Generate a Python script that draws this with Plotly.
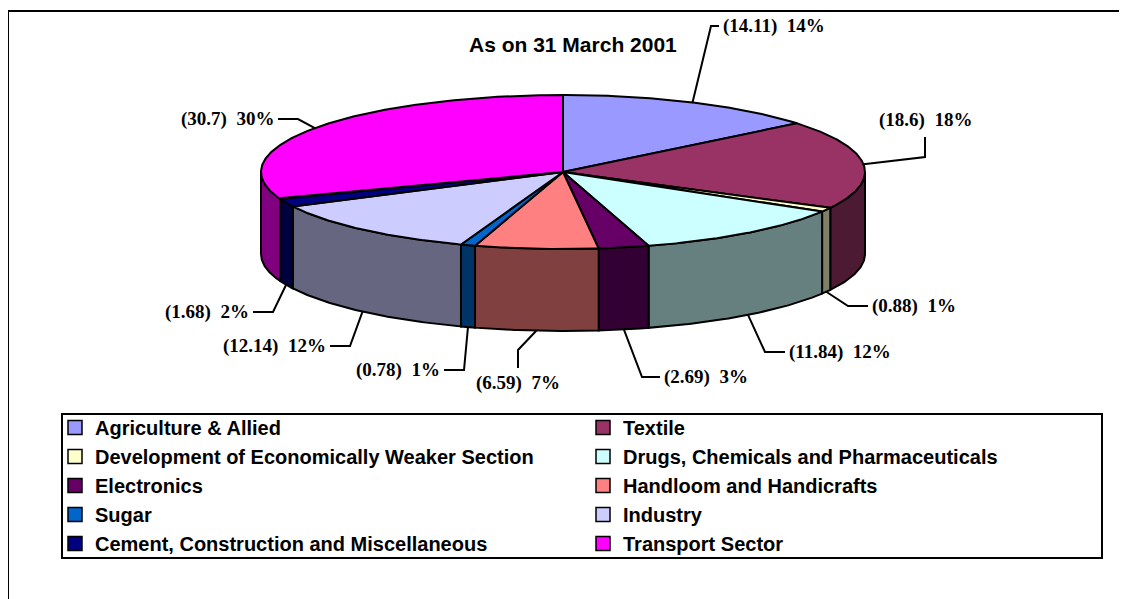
import numpy as np
import plotly.graph_objects as go

# ---------------- data ----------------
categories = [
    "Agriculture & Allied",
    "Textile",
    "Development of Economically Weaker Section",
    "Drugs, Chemicals and Pharmaceuticals",
    "Electronics",
    "Handloom and Handicrafts",
    "Sugar",
    "Industry",
    "Cement, Construction and Miscellaneous",
    "Transport Sector",
]
values = [14.11, 18.6, 0.88, 11.84, 2.69, 6.59, 0.78, 12.14, 1.68, 30.7]
pct_labels = ["14%", "18%", "1%", "12%", "3%", "7%", "1%", "12%", "2%", "30%"]

# ---------------- styles ----------------
top_colors = ["#9999FF", "#993366", "#FFFFCC", "#CCFFFF", "#660066",
              "#FF8080", "#0066CC", "#CCCCFF", "#000080", "#FF00FF"]
side_colors = ["#4D4D80", "#4D1A33", "#808066", "#668080", "#330033",
               "#804040", "#003366", "#666680", "#000040", "#800080"]

W, H = 1127, 599
OFF = 8  # page body margin: axis units equal screen pixels
CX, CY, RX, RY, DEPTH = 563, 172, 302, 77, 82

# label placement: (text x, text y, side, leader segment length)
label_layout = [
    (721, 26, "r", 10),
    (925, 133, "a", 24),
    (870, 306, "r", 22),
    (787, 352, "r", 22),
    (662, 377, "r", 20),
    (518, 370, "b", 20),
    (442, 370, "l", 22),
    (328, 346, "l", 22),
    (251, 312, "l", 22),
    (276, 119, "l", 22),
]


def ex(theta_deg):
    return CX + RX * np.sin(np.radians(theta_deg))


def ey(theta_deg, drop=0.0):
    return CY - RY * np.cos(np.radians(theta_deg)) + drop


total = float(sum(values))
cum = np.concatenate([[0.0], np.cumsum(values)]) / total * 360.0

fig = go.Figure()
OUT = dict(color="black", width=2)

# side walls (front half only)
for i, v in enumerate(values):
    a0, a1 = cum[i], cum[i + 1]
    b0, b1 = max(a0, 90.0), min(a1, 270.0)
    if b1 <= b0:
        continue
    th = np.linspace(b0, b1, max(4, int((b1 - b0) * 2)))
    xs = list(ex(th)) + list(ex(th[::-1]))
    ys = list(ey(th)) + list(ey(th[::-1], DEPTH))
    xs.append(xs[0]); ys.append(ys[0])
    fig.add_trace(go.Scatter(x=xs, y=ys, mode="lines", fill="toself",
                             fillcolor=side_colors[i], line=OUT,
                             hoverinfo="skip", showlegend=False))

# top faces
for i, v in enumerate(values):
    a0, a1 = cum[i], cum[i + 1]
    th = np.linspace(a0, a1, max(4, int((a1 - a0) * 2)))
    xs = [CX] + list(ex(th)) + [CX]
    ys = [CY] + list(ey(th)) + [CY]
    fig.add_trace(go.Scatter(x=xs, y=ys, mode="lines", fill="toself",
                             fillcolor=top_colors[i], line=OUT,
                             hoverinfo="skip", showlegend=False,
                             name=categories[i]))

# data labels with leader lines
label_font = dict(family="Liberation Serif", size=19, color="black")
for i, v in enumerate(values):
    m = (cum[i] + cum[i + 1]) / 2.0
    ax_ = float(ex(m))
    ay_ = float(ey(m, DEPTH if 90.0 < m < 270.0 else 0.0))
    tx, ty, side, seg = label_layout[i]
    if side == "r":
        pts = [(ax_, ay_), (tx - seg, ty), (tx - 2, ty)]
        xa, ya = "left", "middle"
    elif side == "l":
        pts = [(ax_, ay_), (tx + seg, ty), (tx + 2, ty)]
        xa, ya = "right", "middle"
    elif side == "b":
        pts = [(ax_, ay_), (tx, ty - seg), (tx, ty - 2)]
        xa, ya = "center", "top"
    else:
        pts = [(ax_, ay_), (tx, ty + seg), (tx, ty + 4)]
        xa, ya = "center", "bottom"
    fig.add_trace(go.Scatter(x=[p[0] for p in pts], y=[p[1] for p in pts],
                             mode="lines", line=OUT,
                             hoverinfo="skip", showlegend=False))
    fig.add_annotation(x=tx, y=ty, xref="x", yref="y", showarrow=False,
                       text="<b>(" + str(v) + ")\u00a0 " + pct_labels[i] + "</b>",
                       xanchor=xa, yanchor=ya, font=label_font)

# legend entries
for i, name in enumerate(categories):
    fig.add_trace(go.Scatter(x=[None], y=[None], mode="markers",
                             name="<b>" + name + "</b>",
                             marker=dict(symbol="square", size=14,
                                         color=top_colors[i],
                                         line=dict(color="black", width=1.5)),
                             showlegend=True))

# title
fig.add_annotation(x=573, y=44, xref="x", yref="y", showarrow=False,
                   text="<b>As on 31 March 2001</b>",
                   font=dict(family="Liberation Sans", size=21, color="black"))

# chart frame and legend box
fig.add_shape(type="rect", xref="x", yref="y", x0=8, y0=11, x1=W + 40, y1=H + 40,
              line=dict(color="black", width=2), fillcolor="rgba(0,0,0,0)", layer="below")
fig.add_shape(type="rect", xref="x", yref="y", x0=62, y0=414, x1=1102, y1=558,
              line=dict(color="black", width=2), fillcolor="rgba(0,0,0,0)", layer="below")

fig.update_layout(
    width=W, height=H,
    margin=dict(l=0, r=0, t=0, b=0),
    paper_bgcolor="white", plot_bgcolor="white",
    xaxis=dict(range=[OFF, W + OFF], visible=False, fixedrange=True),
    yaxis=dict(range=[H + OFF, OFF], visible=False, fixedrange=True),
    showlegend=True,
    legend=dict(orientation="h", x=(55 - OFF) / W, y=1 - (408 - OFF) / H,
                xanchor="left", yanchor="top",
                entrywidth=483, entrywidthmode="pixels",
                bgcolor="rgba(0,0,0,0)", borderwidth=0,
                font=dict(family="Liberation Sans", size=20, color="black"),
                traceorder="normal"),
)

fig.write_html("out.html")
